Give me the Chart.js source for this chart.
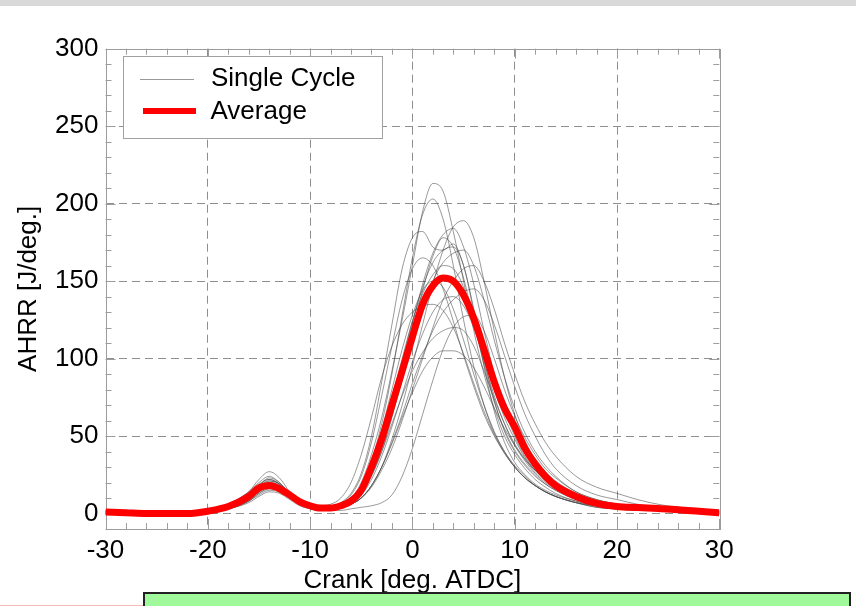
<!DOCTYPE html>
<html>
<head>
<meta charset="utf-8">
<title>AHRR</title>
<script src="https://cdn.jsdelivr.net/npm/chart.js@4.4.1/dist/chart.umd.min.js"></script>
<style>
  html, body { margin: 0; padding: 0; background: #fff; }
  #page { position: relative; width: 856px; height: 606px; overflow: hidden; }
  #wrap { position: absolute; left: 0; top: 0; width: 856px; height: 606px; }
  #topbar { position: absolute; left: 0; top: 0; width: 856px; height: 6px; background: #d9d9d9; }
  #note { position: absolute; left: 143px; top: 592px; width: 708px; height: 30px;
          background: #a0fa9c; border: 2px solid #222; box-sizing: border-box; }
  #pink { position: absolute; left: 0; top: 605px; width: 143px; height: 1px; background: #f2bcbc; }
</style>
</head>
<body>
<div id="page">
  <div id="wrap"><canvas id="ahrrChart"></canvas></div>
  <div id="topbar"></div>
  <div id="note"></div>
  <div id="pink"></div>
</div>
<script>
// Axis ticks
const X_TICKS = [-30, -20, -10, 0, 10, 20, 30];
const Y_TICKS = [0, 50, 100, 150, 200, 250, 300];

// Crank angle samples [deg. ATDC]
const CRANK = [-30, -28, -26, -24, -22, -20, -18,
  -16, -15, -14, -13, -12, -11, -10, -9, -8, -7, -6, -5, -4,
  -3, -2, -1, 0, 1, 2, 3, 4, 5, 6, 7, 8, 9, 10, 11, 12, 13, 14,
  16, 18, 20, 22, 24, 26, 28, 30];

// Average AHRR [J/deg.]
const AVERAGE = [1, 0.5, 0, 0, 0, 1.5, 4.5,
  11, 16.5, 18, 16, 12, 7.5, 5, 3.5, 3.5, 5, 8, 15, 30,
  48, 70, 92, 114, 135, 147, 152, 150, 141, 126, 106, 85, 68, 56, 42, 32, 24, 18,
  11, 6.5, 4.5, 3.8, 3.2, 2.5, 1.5, 0.5];

// Single cycles [J/deg.]
const CYCLE_01 = [2, -1, 1, 0, 0, 2, 5, 13, 19, 22, 19, 12, 7, 5, 3, 4, 6, 10, 20, 38,
  62, 92, 125, 160, 195, 213, 208, 182, 150, 118, 90, 68, 50, 38, 29, 22, 17, 13, 8, 5, 3, 3, 2, 2, 1, 0];
const CYCLE_02 = [2, 1, 0, -1, 0, 1, 4, 10, 16, 20, 18, 12, 7, 4, 3, 3, 5, 9, 18, 34,
  58, 90, 128, 165, 193, 203, 190, 160, 125, 95, 70, 52, 40, 31, 24, 18, 14, 11, 7, 4, 3, 2, 2, 1, 1, 0];
const CYCLE_03 = [0, 1, -1, 0, 1, 0, 3, 9, 14, 17, 15, 10, 6, 4, 3, 3, 4, 6, 10, 18,
  30, 48, 70, 95, 122, 148, 170, 185, 189, 178, 150, 118, 88, 64, 47, 35, 27, 21, 13, 8, 5, 4, 3, 3, 2, 1];
const CYCLE_04 = [1, 0, 0, 0, -1, 1, 4, 11, 17, 21, 19, 13, 8, 5, 4, 4, 6, 9, 16, 28,
  45, 68, 95, 122, 148, 168, 180, 184, 172, 148, 118, 90, 67, 50, 37, 28, 22, 17, 11, 7, 5, 4, 3, 2, 2, 1];
const CYCLE_05 = [1, 0, 1, 0, 0, 2, 6, 14, 22, 27, 23, 14, 7, 4, 3, 4, 7, 13, 26, 50,
  85, 122, 158, 178, 182, 172, 170, 174, 160, 132, 100, 73, 53, 40, 31, 24, 19, 15, 9, 6, 4, 3, 3, 2, 1, 1];
const CYCLE_06 = [0, 1, 0, -1, 0, 1, 3, 9, 14, 18, 17, 12, 7, 5, 4, 3, 4, 7, 13, 24,
  40, 62, 88, 116, 144, 166, 178, 172, 152, 124, 96, 72, 54, 41, 32, 25, 19, 15, 9, 6, 4, 3, 2, 2, 1, 0];
const CYCLE_07 = [2, 1, 0, 0, 0, 1, 4, 10, 16, 20, 18, 12, 8, 5, 4, 4, 5, 8, 14, 25,
  42, 63, 86, 110, 132, 150, 162, 168, 170, 160, 138, 112, 88, 68, 52, 40, 31, 24, 14, 9, 6, 4, 3, 3, 2, 1];
const CYCLE_08 = [1, 0, 0, 1, 0, 2, 5, 12, 18, 22, 19, 12, 7, 4, 3, 3, 6, 12, 24, 46,
  76, 108, 138, 158, 165, 160, 145, 124, 102, 82, 64, 50, 39, 30, 23, 18, 14, 11, 7, 4, 3, 2, 2, 1, 1, 0];
const CYCLE_09 = [0, 0, 1, 0, 0, 1, 3, 8, 13, 16, 15, 10, 6, 4, 3, 3, 4, 6, 10, 17,
  28, 42, 60, 80, 100, 120, 138, 150, 158, 160, 150, 132, 110, 90, 72, 58, 46, 37, 24, 17, 13, 9, 6, 4, 3, 2];
const CYCLE_10 = [1, 0, 0, 0, 1, 1, 4, 10, 15, 19, 17, 11, 7, 4, 3, 3, 5, 9, 17, 32,
  54, 80, 106, 128, 144, 150, 146, 132, 112, 90, 70, 53, 40, 30, 23, 18, 14, 11, 7, 5, 4, 3, 2, 2, 1, 0];
const CYCLE_11 = [0, 1, 0, 0, 0, 1, 3, 9, 14, 17, 16, 11, 6, 4, 3, 3, 4, 7, 12, 22,
  37, 56, 77, 98, 116, 130, 138, 140, 134, 120, 100, 80, 62, 48, 36, 28, 22, 17, 11, 7, 5, 4, 3, 2, 2, 1];
const CYCLE_12 = [2, 1, 0, 0, 0, 2, 6, 14, 20, 24, 20, 13, 8, 6, 5, 6, 10, 20, 38, 62,
  88, 108, 122, 130, 134, 135, 131, 120, 103, 84, 66, 51, 39, 30, 23, 18, 14, 11, 7, 5, 4, 3, 3, 2, 1, 1];
const CYCLE_13 = [0, 0, 0, 0, 0, 1, 3, 7, 11, 14, 13, 9, 5, 3, 2, 2, 2, 3, 4, 5,
  7, 12, 24, 42, 64, 86, 106, 120, 127, 128, 118, 100, 80, 63, 49, 38, 29, 23, 14, 9, 6, 4, 3, 3, 2, 1];
const CYCLE_14 = [1, 0, 0, 0, 0, 1, 4, 10, 15, 18, 16, 10, 6, 4, 3, 3, 5, 8, 14, 25,
  40, 58, 76, 92, 104, 113, 118, 120, 118, 108, 92, 74, 58, 45, 35, 27, 21, 16, 10, 6, 4, 3, 3, 2, 1, 1];
const CYCLE_15 = [0, 1, 0, 0, 0, 1, 3, 8, 12, 15, 14, 10, 6, 4, 3, 3, 4, 6, 10, 18,
  30, 45, 62, 78, 92, 101, 105, 105, 102, 94, 82, 68, 55, 44, 35, 28, 22, 17, 11, 7, 5, 4, 3, 2, 2, 1];
const CYCLE_16 = [1, 0, 0, 0, 0, 2, 5, 12, 18, 23, 20, 13, 7, 4, 3, 3, 5, 8, 15, 28,
  48, 72, 98, 124, 146, 162, 170, 172, 160, 130, 95, 66, 46, 33, 25, 19, 15, 12, 8, 5, 4, 3, 3, 2, 2, 1];
const CYCLE_17 = [0, 0, 1, 0, 0, 1, 3, 8, 13, 16, 15, 10, 6, 4, 3, 3, 4, 6, 10, 18,
  30, 46, 64, 84, 102, 118, 130, 138, 143, 145, 138, 122, 102, 82, 64, 50, 38, 29, 18, 12, 9, 6, 4, 3, 2, 1];
const CYCLE_18 = [1, 1, 0, 0, 0, 1, 4, 11, 17, 21, 19, 12, 7, 4, 3, 3, 5, 9, 16, 30,
  50, 74, 100, 124, 142, 154, 160, 158, 146, 124, 98, 76, 58, 44, 34, 26, 20, 16, 10, 6, 4, 3, 3, 2, 2, 1];

const CYCLES = [CYCLE_01, CYCLE_02, CYCLE_03, CYCLE_04, CYCLE_05, CYCLE_06, CYCLE_07, CYCLE_08, CYCLE_09,
  CYCLE_10, CYCLE_11, CYCLE_12, CYCLE_13, CYCLE_14, CYCLE_15, CYCLE_16, CYCLE_17, CYCLE_18];

const X_MINOR = 2;
const Y_MINOR = 10;
const CYCLE_COLOR = 'rgba(70, 70, 70, 0.55)';
const AVG_COLOR = '#ff0000';

Chart.defaults.font.family = "'Liberation Sans', Arial, sans-serif";
Chart.defaults.color = '#000';

const toPoints = (ys) => ys.map((v, i) => ({ x: CRANK[i], y: v }));

// Frame with inward ticks on all four sides
const frameTicks = {
  id: 'frameTicks',
  beforeDatasetsDraw(chart) {
    const { ctx, chartArea: a, scales: { x, y } } = chart;
    ctx.save();
    ctx.strokeStyle = '#9c9c9c';
    ctx.lineWidth = 1;
    ctx.beginPath();
    for (let v = x.min; v <= x.max; v += X_MINOR) {
      const px = Math.round(x.getPixelForValue(v)) + 0.5;
      const len = v % 10 === 0 ? 10 : 6;
      ctx.moveTo(px, a.bottom); ctx.lineTo(px, a.bottom - len);
      ctx.moveTo(px, a.top); ctx.lineTo(px, a.top + len);
    }
    for (let v = y.min; v <= y.max; v += Y_MINOR) {
      const py = Math.round(y.getPixelForValue(v)) + 0.5;
      const len = v % 50 === 0 ? 10 : 6;
      ctx.moveTo(a.left, py); ctx.lineTo(a.left + len, py);
      ctx.moveTo(a.right, py); ctx.lineTo(a.right - len, py);
    }
    ctx.stroke();
    ctx.strokeRect(Math.round(a.left) + 0.5, Math.round(a.top) + 0.5,
      Math.round(a.right - a.left), Math.round(a.bottom - a.top));
    ctx.restore();
  }
};

// Boxed legend in the upper left corner of the plot
const boxLegend = {
  id: 'boxLegend',
  afterDraw(chart) {
    const { ctx } = chart;
    ctx.save();
    ctx.fillStyle = '#fff';
    ctx.fillRect(123.5, 56.5, 259, 82);
    ctx.strokeStyle = '#a0a0a0';
    ctx.lineWidth = 1;
    ctx.strokeRect(123.5, 56.5, 259, 82);

    ctx.strokeStyle = CYCLE_COLOR;
    ctx.lineWidth = 1;
    ctx.beginPath(); ctx.moveTo(140, 79.5); ctx.lineTo(194, 79.5); ctx.stroke();
    ctx.strokeStyle = AVG_COLOR;
    ctx.lineWidth = 6;
    ctx.beginPath(); ctx.moveTo(143, 111); ctx.lineTo(196, 111); ctx.stroke();

    ctx.fillStyle = '#000';
    ctx.font = "26px 'Liberation Sans', Arial, sans-serif";
    ctx.textBaseline = 'alphabetic';
    ctx.fillText('Single Cycle', 211, 86);
    ctx.fillText('Average', 210.5, 118.5);
    ctx.restore();
  }
};

const datasets = [{
  label: 'Average',
  data: toPoints(AVERAGE),
  borderColor: AVG_COLOR,
  borderWidth: 7,
  pointRadius: 0,
  cubicInterpolationMode: 'monotone',
  borderJoinStyle: 'round'
}];
CYCLES.forEach((c, i) => {
  datasets.push({
    label: i === 0 ? 'Single Cycle' : 'Single Cycle ' + (i + 1),
    data: toPoints(c),
    borderColor: CYCLE_COLOR,
    borderWidth: 1,
    pointRadius: 0,
    cubicInterpolationMode: 'monotone'
  });
});

const gridColor = (edges) => (c) => edges.includes(c.tick.value) ? 'rgba(0,0,0,0)' : '#8e8e8e';

new Chart(document.getElementById('ahrrChart'), {
  type: 'line',
  data: { datasets },
  plugins: [frameTicks, boxLegend],
  options: {
    responsive: true,
    maintainAspectRatio: false,
    animation: false,
    layout: { padding: { top: 48.7, right: 136.7, bottom: 0, left: 0 } },
    plugins: { legend: { display: false }, tooltip: { enabled: false } },
    scales: {
      x: {
        type: 'linear',
        min: -30,
        max: 30,
        afterBuildTicks: (s) => { s.ticks = X_TICKS.map(v => ({ value: v })); },
        afterFit: (s) => { s.height = 77; },
        grid: { color: gridColor([-30, 30]), lineWidth: 1, drawTicks: false },
        border: { display: false, dash: [8, 5] },
        ticks: { padding: 6, color: '#000', font: { size: 26 }, maxRotation: 0 },
        title: { display: true, text: 'Crank [deg. ATDC]', color: '#000', font: { size: 26 },
                 padding: { top: 0, bottom: 10 } }
      },
      y: {
        type: 'linear',
        min: -10,
        max: 300,
        afterBuildTicks: (s) => { s.ticks = Y_TICKS.map(v => ({ value: v })); },
        afterFit: (s) => { s.width = 105.5; },
        grid: { color: gridColor([300]), lineWidth: 1, drawTicks: false },
        border: { display: false, dash: [8, 5] },
        ticks: { padding: 7, color: '#000', font: { size: 26 } },
        title: { display: true, text: 'AHRR [J/deg.]', color: '#000', font: { size: 26 },
                 padding: { top: 13, bottom: 0 } }
      }
    }
  }
});
</script>
</body>
</html>
